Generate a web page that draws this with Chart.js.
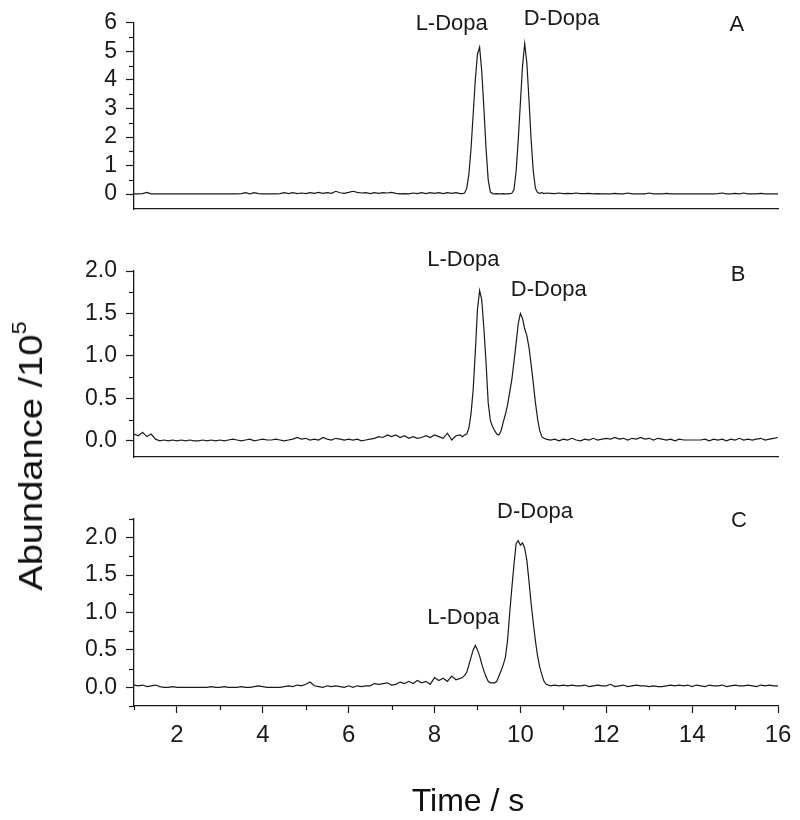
<!DOCTYPE html>
<html lang="en">
<head>
  <meta charset="UTF-8">
  <title>L-Dopa / D-Dopa</title>
  <script src="https://cdn.jsdelivr.net/npm/chart.js"></script>
  <style>
    html, body { margin: 0; padding: 0; background: #fff; }
    body {
      width: 800px; height: 820px; position: relative; overflow: hidden;
      font-family: 'Liberation Sans', Arial, sans-serif; color: #111;
    }
    canvas { position: absolute; left: 0; }
    .axis-title { position: absolute; white-space: nowrap; line-height: 1; }
    #ytitle { left: 30px; top: 456px; font-size: 34px; transform: translate(-50%, -50%) rotate(-90deg) scaleX(1.12); }
    #xtitle { left: 468px; top: 800px; font-size: 32px; transform: translate(-50%, -50%); }
    sup { font-size: 0.62em; vertical-align: 0.75em; line-height: 0; }
  </style>
</head>
<body>

<canvas id="panelA" width="800" height="239" style="top:0px"></canvas>
<canvas id="panelB" width="800" height="257" style="top:230px"></canvas>
<canvas id="panelC" width="800" height="330" style="top:490px"></canvas>

<div class="axis-title" id="ytitle">Abundance /10<sup>5</sup></div>
<div class="axis-title" id="xtitle">Time / s</div>

<script>
  // time grid (s): 0.1 s on the baseline, 0.05 s across the peaks
  const time = [
    1.0, 1.1, 1.2, 1.3, 1.4, 1.5, 1.6, 1.7, 1.8, 1.9,
    2.0, 2.1, 2.2, 2.3, 2.4, 2.5, 2.6, 2.7, 2.8, 2.9,
    3.0, 3.1, 3.2, 3.3, 3.4, 3.5, 3.6, 3.7, 3.8, 3.9,
    4.0, 4.1, 4.2, 4.3, 4.4, 4.5, 4.6, 4.7, 4.8, 4.9,
    5.0, 5.1, 5.2, 5.3, 5.4, 5.5, 5.6, 5.7, 5.8, 5.9,
    6.0, 6.1, 6.2, 6.3, 6.4, 6.5, 6.6, 6.7, 6.8, 6.9,
    7.0, 7.1, 7.2, 7.3, 7.4, 7.5, 7.6, 7.7, 7.8, 7.9,
    8.0, 8.1, 8.2, 8.3, 8.4, 8.5, 8.6,
    8.65, 8.70, 8.75, 8.80, 8.85, 8.90, 8.95, 9.00, 9.05, 9.10,
    9.15, 9.20, 9.25, 9.30, 9.35, 9.40, 9.45, 9.50, 9.55, 9.60,
    9.65, 9.70, 9.75, 9.80, 9.85, 9.90, 9.95, 10.00, 10.05, 10.10,
    10.15, 10.20, 10.25, 10.30, 10.35, 10.40, 10.45, 10.50, 10.55, 10.60,
    10.7, 10.8, 10.9,
    11.0, 11.1, 11.2, 11.3, 11.4, 11.5, 11.6, 11.7, 11.8, 11.9,
    12.0, 12.1, 12.2, 12.3, 12.4, 12.5, 12.6, 12.7, 12.8, 12.9,
    13.0, 13.1, 13.2, 13.3, 13.4, 13.5, 13.6, 13.7, 13.8, 13.9,
    14.0, 14.1, 14.2, 14.3, 14.4, 14.5, 14.6, 14.7, 14.8, 14.9,
    15.0, 15.1, 15.2, 15.3, 15.4, 15.5, 15.6, 15.7, 15.8, 15.9,
    16.0
  ];

  // abundance /10^5, panel A
  const abundanceA = [
    0.01, 0.01, 0.02, 0.06, 0.01, 0.01, 0.01, 0.01, 0.01, 0.01,
    0.01, 0.01, 0.01, 0.01, 0.01, 0.01, 0.01, 0.01, 0.01, 0.01,
    0.01, 0.01, 0.01, 0.01, 0.01, 0.02, 0.05, 0.01, 0.05, 0.02,
    0.01, 0.01, 0.01, 0.01, 0.02, 0.05, 0.02, 0.05, 0.02, 0.04,
    0.02, 0.05, 0.03, 0.06, 0.03, 0.05, 0.03, 0.10, 0.05, 0.03,
    0.06, 0.10, 0.06, 0.04, 0.05, 0.02, 0.05, 0.03, 0.05, 0.04,
    0.06, 0.03, 0.01, 0.02, 0.01, 0.04, 0.02, 0.05, 0.02, 0.05,
    0.03, 0.05, 0.02, 0.05, 0.03, 0.05, 0.02,
    0.02, 0.04, 0.2, 0.7, 1.6, 2.8, 4.0, 4.9, 5.15, 4.3,
    3.0, 1.6, 0.5, 0.08, 0.02, 0.01, 0.02, 0.01, 0.01, 0.02,
    0.01, 0.01, 0.02, 0.03, 0.15, 0.8, 1.9, 3.2, 4.5, 5.27,
    4.6, 3.3, 1.9, 0.8, 0.2, 0.06, 0.03, 0.05, 0.02, 0.04,
    0.03, 0.02, 0.04,
    0.02, 0.03, 0.02, 0.04, 0.02, 0.02, 0.03, 0.01, 0.02, 0.01,
    0.01, 0.01, 0.03, 0.01, 0.01, 0.04, 0.01, 0.01, 0.01, 0.01,
    0.04, 0.01, 0.01, 0.01, 0.03, 0.01, 0.01, 0.01, 0.01, 0.01,
    0.01, 0.01, 0.01, 0.01, 0.01, 0.01, 0.02, 0.04, 0.01, 0.01,
    0.03, 0.01, 0.04, 0.01, 0.01, 0.01, 0.03, 0.01, 0.01, 0.01,
    0.01
  ];

  // panel B
  const abundanceB = [
    0.08, 0.06, 0.10, 0.05, 0.08, 0.02, 0.00, 0.01, 0.00, 0.01,
    0.00, 0.01, 0.00, 0.01, 0.00, 0.00, 0.01, 0.00, 0.01, 0.00,
    0.01, 0.00, 0.01, 0.02, 0.01, 0.00, 0.01, 0.02, 0.00, 0.01,
    0.02, 0.01, 0.01, 0.02, 0.01, 0.00, 0.01, 0.02, 0.04, 0.02,
    0.03, 0.01, 0.02, 0.01, 0.04, 0.02, 0.01, 0.03, 0.02, 0.01,
    0.02, 0.01, 0.02, 0.00, 0.01, 0.02, 0.03, 0.05, 0.04, 0.07,
    0.05, 0.07, 0.04, 0.06, 0.03, 0.05, 0.03, 0.04, 0.06, 0.04,
    0.07, 0.05, 0.03, 0.09, 0.01, 0.06, 0.07,
    0.05, 0.07, 0.08, 0.15, 0.32, 0.60, 1.05, 1.55, 1.77, 1.66,
    1.32, 0.92, 0.45, 0.24, 0.17, 0.12, 0.08, 0.07, 0.12, 0.22,
    0.31, 0.42, 0.57, 0.72, 0.93, 1.15, 1.38, 1.50, 1.44, 1.32,
    1.24, 1.10, 0.90, 0.68, 0.45, 0.26, 0.12, 0.05, 0.03, 0.02,
    0.01, 0.02, 0.00,
    0.02, 0.01, 0.03, 0.01, 0.00, 0.02, 0.01, 0.03, 0.01, 0.02,
    0.03, 0.02, 0.04, 0.02, 0.03, 0.01, 0.03, 0.02, 0.04, 0.02,
    0.03, 0.01, 0.03, 0.02, 0.01, 0.02, 0.00, 0.02, 0.01, 0.01,
    0.01, 0.01, 0.01, 0.02, 0.00, 0.02, 0.01, 0.02, 0.00, 0.02,
    0.01, 0.03, 0.01, 0.02, 0.01, 0.02, 0.03, 0.01, 0.02, 0.03,
    0.04
  ];

  // panel C
  const abundanceC = [
    0.03, 0.02, 0.03, 0.01, 0.02, 0.03, 0.01, 0.00, 0.00, 0.01,
    0.00, 0.00, 0.00, 0.00, 0.00, 0.00, 0.00, 0.00, 0.01, 0.00,
    0.00, 0.01, 0.00, 0.00, 0.00, 0.01, 0.00, 0.00, 0.01, 0.02,
    0.01, 0.00, 0.00, 0.00, 0.00, 0.01, 0.02, 0.01, 0.03, 0.02,
    0.04, 0.07, 0.02, 0.01, 0.00, 0.02, 0.01, 0.02, 0.01, 0.00,
    0.02, 0.00, 0.02, 0.01, 0.02, 0.02, 0.05, 0.04, 0.05, 0.06,
    0.03, 0.04, 0.07, 0.05, 0.08, 0.05, 0.09, 0.06, 0.08, 0.04,
    0.13, 0.09, 0.12, 0.08, 0.15, 0.10, 0.12,
    0.13, 0.16, 0.20, 0.30, 0.40, 0.50, 0.56, 0.50, 0.42, 0.31,
    0.22, 0.14, 0.08, 0.06, 0.06, 0.06, 0.08, 0.15, 0.22, 0.30,
    0.40, 0.62, 0.99, 1.32, 1.64, 1.92, 1.96, 1.90, 1.93, 1.86,
    1.70, 1.42, 1.12, 0.86, 0.62, 0.42, 0.27, 0.17, 0.08, 0.04,
    0.02, 0.03, 0.02,
    0.03, 0.02, 0.03, 0.02, 0.02, 0.03, 0.01, 0.02, 0.03, 0.02,
    0.02, 0.04, 0.01, 0.02, 0.03, 0.01, 0.02, 0.03, 0.02, 0.02,
    0.01, 0.02, 0.01, 0.01, 0.02, 0.03, 0.02, 0.03, 0.02, 0.03,
    0.01, 0.03, 0.02, 0.01, 0.03, 0.02, 0.02, 0.03, 0.01, 0.02,
    0.03, 0.02, 0.02, 0.03, 0.02, 0.01, 0.03, 0.02, 0.03, 0.02,
    0.02
  ];

  // tick labels
  const xMajorTicks = [2, 4, 6, 8, 10, 12, 14, 16];
  const xMinorTicks = [1, 3, 5, 7, 9, 11, 13, 15];
  const yTicksA = [0, 1, 2, 3, 4, 5, 6];
  const yMinorA = [0.5, 1.5, 2.5, 3.5, 4.5, 5.5];
  const yTicksBC = [0, 0.5, 1, 1.5, 2];
  const yMinorB = [0.25, 0.75, 1.25, 1.75];
  const yMinorC = [-0.25, 0.25, 0.75, 1.25, 1.75, 2.25];

  const ink = '#1a1a1a';
  const fontFamily = "'Liberation Sans', Arial, sans-serif";

  // short minor ticks + peak labels, placed through the chart's scales
  const extras = {
    id: 'extras',
    afterDraw(chart, args, opts) {
      const ctx = chart.ctx;
      const xs = chart.scales.x, ys = chart.scales.y;
      ctx.save();
      ctx.strokeStyle = ink;
      ctx.lineWidth = 1.2;
      (opts.yMinor || []).forEach(v => {
        const py = Math.round(ys.getPixelForValue(v)) + 0.5;
        ctx.beginPath(); ctx.moveTo(ys.right - 5, py); ctx.lineTo(ys.right, py); ctx.stroke();
      });
      (opts.xMinor || []).forEach(v => {
        const px = Math.round(xs.getPixelForValue(v)) + 0.5;
        ctx.beginPath(); ctx.moveTo(px, xs.top); ctx.lineTo(px, xs.top + 4); ctx.stroke();
      });
      ctx.fillStyle = ink;
      ctx.textAlign = 'center';
      ctx.textBaseline = 'middle';
      (opts.labels || []).forEach(l => {
        ctx.font = (l.size || 22) + 'px ' + fontFamily;
        ctx.fillText(l.text, xs.getPixelForValue(l.t), ys.getPixelForValue(l.v));
      });
      ctx.restore();
    }
  };

  function makePanel(id, values, o) {
    const xAxis = {
      type: 'linear', min: 1, max: 16,
      border: { display: true, color: ink, width: 1.3 },
      grid: { display: o.showX, drawOnChartArea: false, color: ink, tickLength: 7, tickWidth: 1.2 },
      ticks: {
        display: o.showX, autoSkip: false, maxRotation: 0, padding: 8, color: ink,
        font: { family: fontFamily, size: 24 }
      },
      afterBuildTicks: s => { s.ticks = xMajorTicks.map(v => ({ value: v })); },
      afterFit: s => { s.height = o.xHeight; }
    };
    return new Chart(document.getElementById(id), {
      type: 'line',
      data: {
        datasets: [{
          data: time.map((t, i) => ({ x: t, y: values[i] })),
          borderColor: ink, borderWidth: 1.2, pointRadius: 0, tension: 0, fill: false
        }]
      },
      options: {
        responsive: false,
        animation: false,
        layout: { padding: { top: o.padTop, bottom: o.padBottom, left: 0, right: 22 } },
        plugins: {
          legend: { display: false },
          tooltip: { enabled: false },
          extras: { yMinor: o.yMinor, xMinor: o.showX ? xMinorTicks : [], labels: o.labels }
        },
        scales: {
          x: xAxis,
          y: {
            min: o.yMin, max: o.yMax,
            border: { display: true, color: ink, width: 1.3 },
            grid: { drawOnChartArea: false, color: ink, tickLength: 8, tickWidth: 1.2 },
            ticks: {
              padding: 9, color: ink,
              font: { family: fontFamily, size: 23 },
              callback: v => o.yFmt(v)
            },
            afterBuildTicks: s => { s.ticks = o.yTicks.map(v => ({ value: v })); },
            afterFit: s => { s.width = 134; }
          }
        }
      },
      plugins: [extras]
    });
  }

  // A: canvas 0..239, plot 21..209
  makePanel('panelA', abundanceA, {
    yMin: -0.52, yMax: 6, yTicks: yTicksA, yMinor: yMinorA, yFmt: v => v.toFixed(0),
    padTop: 21, padBottom: 30, showX: false, xHeight: 0,
    labels: [
      { text: 'L-Dopa', t: 8.4, v: 5.97 },
      { text: 'D-Dopa', t: 10.96, v: 6.12 },
      { text: 'A', t: 15.04, v: 5.92 }
    ]
  });

  // B: canvas 230..487, plot 271..457
  makePanel('panelB', abundanceB, {
    yMin: -0.19, yMax: 2.0, yTicks: yTicksBC, yMinor: yMinorB, yFmt: v => v.toFixed(1),
    padTop: 41, padBottom: 30, showX: false, xHeight: 0,
    labels: [
      { text: 'L-Dopa', t: 8.67, v: 2.13 },
      { text: 'D-Dopa', t: 10.66, v: 1.78 },
      { text: 'B', t: 15.07, v: 1.95 }
    ]
  });

  // C: canvas 490..820, plot 519..706
  makePanel('panelC', abundanceC, {
    yMin: -0.25, yMax: 2.25, yTicks: yTicksBC, yMinor: yMinorC, yFmt: v => v.toFixed(1),
    padTop: 29, padBottom: 0, showX: true, xHeight: 114,
    labels: [
      { text: 'D-Dopa', t: 10.34, v: 2.35 },
      { text: 'L-Dopa', t: 8.67, v: 0.93 },
      { text: 'C', t: 15.09, v: 2.22 }
    ]
  });
</script>

</body>
</html>
